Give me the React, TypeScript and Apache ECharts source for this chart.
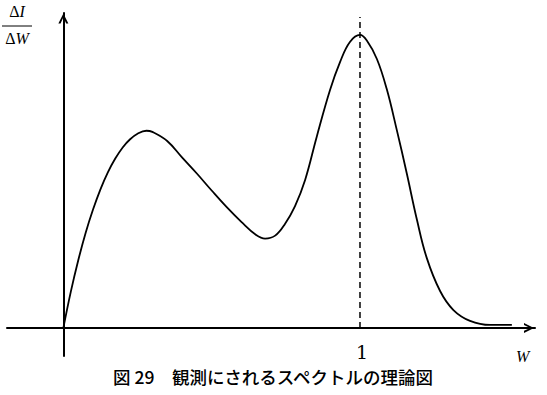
import React, { useEffect, useRef } from "react";
import * as echarts from "echarts";

// Spectrum curve (W, ΔI/ΔW)
const curveW = [0, 0.025, 0.05, 0.075, 0.1, 0.125, 0.15, 0.175, 0.2, 0.225, 0.25, 0.28, 0.3, 0.35, 0.4, 0.45, 0.5, 0.55, 0.6, 0.65, 0.68, 0.714, 0.747, 0.781, 0.815, 0.854, 0.899, 0.933, 0.966, 1.0, 1.023, 1.057, 1.09, 1.124, 1.158, 1.192, 1.225, 1.27, 1.315, 1.371, 1.439, 1.512];
const curveY = [0, 0.123, 0.23, 0.324, 0.404, 0.473, 0.531, 0.578, 0.616, 0.644, 0.663, 0.673, 0.669, 0.638, 0.582, 0.527, 0.469, 0.413, 0.362, 0.317, 0.305, 0.315, 0.355, 0.416, 0.505, 0.652, 0.812, 0.908, 0.976, 1.0, 0.981, 0.918, 0.816, 0.676, 0.526, 0.369, 0.239, 0.126, 0.061, 0.024, 0.01, 0.01];
const markerW = [1, 1];
const markerY = [0, 1.061];
const xTickValues = [1];
const xName = "W";
const yNameTop = "ΔI";
const yNameBottom = "ΔW";
const caption = "図 29　観測にされるスペクトルの理論図";

const ARROW = "path://M5,0 L10,10 L7.8,10 L5,3.8 L2.2,10 L0,10 Z";

export default function App() {
  const ref = useRef<HTMLDivElement>(null);
  useEffect(() => {
    if (!ref.current) return;
    const chart = echarts.init(ref.current, null, { renderer: "svg" });
    const curve = curveW.map((w, i) => [w, curveY[i]]);
    const marker = markerW.map((w, i) => [w, markerY[i]]);
    const frac = (s: string) => ({
      text: `{d|${s.slice(0, 1)}}{i|${s.slice(1)}}`,
      align: "center",
      verticalAlign: "middle",
      rich: {
        d: { fontFamily: "Liberation Serif", fontSize: 16, fill: "#000" },
        i: { fontFamily: "Liberation Serif", fontStyle: "italic", fontSize: 16, fill: "#000" },
      },
    });
    chart.setOption({
      animation: false,
      backgroundColor: "#ffffff",
      grid: { left: 7, top: 13, width: 528, height: 343, containLabel: false },
      xAxis: {
        type: "value",
        min: -0.19,
        max: 1.59,
        splitLine: { show: false },
        axisTick: { show: false },
        axisLine: {
          onZero: true,
          symbol: ["none", ARROW],
          symbolSize: [10, 12],
          symbolOffset: [0, -6],
          lineStyle: { color: "#000", width: 2 },
        },
        axisLabel: {
          customValues: xTickValues,
          formatter: (v: number) => String(v),
          color: "#000",
          fontSize: 19,
          fontFamily: "DejaVu Serif",
          margin: -14,
          padding: [0, 0, 0, 4],
        },
      },
      yAxis: {
        type: "value",
        min: -0.096,
        max: 1.075,
        splitLine: { show: false },
        axisTick: { show: false },
        axisLabel: { show: false },
        axisLine: {
          onZero: true,
          symbol: ["none", ARROW],
          symbolSize: [10, 11],
          symbolOffset: [0, -5.5],
          lineStyle: { color: "#000", width: 2 },
        },
      },
      series: [
        {
          type: "line",
          data: curve,
          smooth: 0.4,
          showSymbol: false,
          lineStyle: { color: "#000", width: 1.8 },
          z: 3,
        },
        {
          type: "line",
          data: marker,
          showSymbol: false,
          lineStyle: { color: "#000", width: 1.5, type: [6, 4] },
          z: 2,
        },
      ],
      graphic: [
        {
          type: "text",
          left: 523 - 7,
          top: 357 - 9,
          style: {
            text: xName,
            fill: "#000",
            font: "italic 16px 'Liberation Serif'",
          },
        },
        { type: "text", x: 17, y: 11, style: frac(yNameTop) },
        {
          type: "line",
          shape: { x1: 2, y1: 26, x2: 32, y2: 26 },
          style: { stroke: "#000", lineWidth: 1 },
        },
        { type: "text", x: 17, y: 38, style: frac(yNameBottom) },
        {
          type: "text",
          x: 273,
          y: 376,
          style: {
            text: caption,
            align: "center",
            verticalAlign: "middle",
            fill: "#000",
            font: "500 17.5px 'Noto Sans CJK JP'",
          },
        },
      ],
    });
    return () => chart.dispose();
  }, []);
  return (
    <div
      ref={ref}
      style={{ position: "fixed", left: 0, top: 0, width: 547, height: 395 }}
    />
  );
}
